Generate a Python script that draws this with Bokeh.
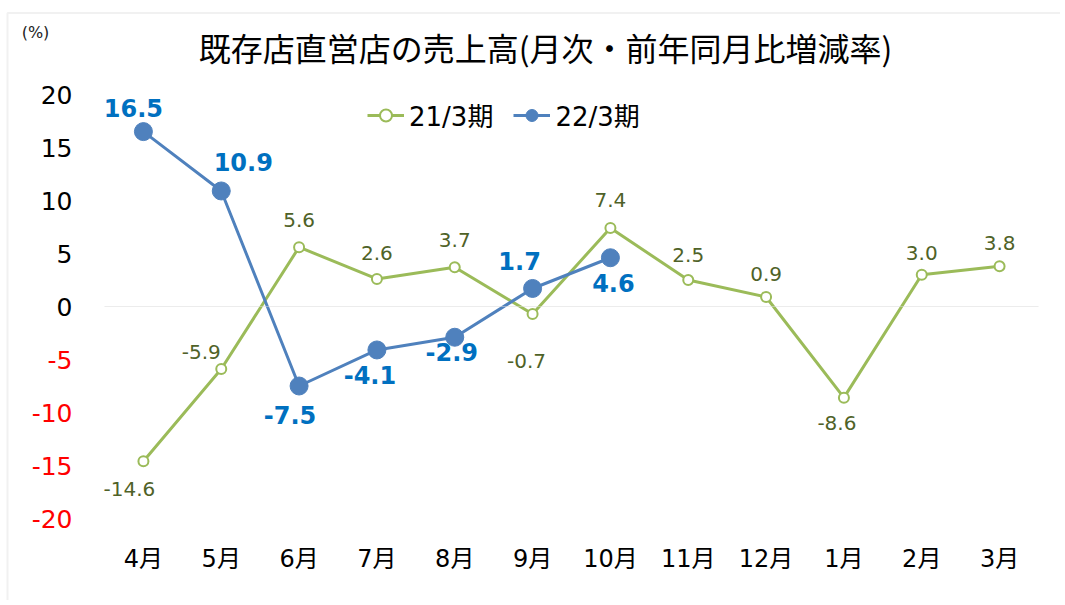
from bokeh.plotting import figure
from bokeh.models import (ColumnDataSource, LabelSet, Label, Legend, LegendItem,
                          FixedTicker, BoxAnnotation, Range1d, LinearAxis)
from bokeh.core.properties import value
from bokeh.embed import file_html
from bokeh.resources import INLINE

months = ["4月", "5月", "6月", "7月", "8月", "9月", "10月", "11月", "12月", "1月", "2月", "3月"]
fy21 = [-14.6, -5.9, 5.6, 2.6, 3.7, -0.7, 7.4, 2.5, 0.9, -8.6, 3.0, 3.8]
fy22 = [16.5, 10.9, -7.5, -4.1, -2.9, 1.7, 4.6]
pos_ticks = [0, 5, 10, 15, 20]
neg_ticks = [-20, -15, -10, -5]
title_text = "既存店直営店の売上高(月次・前年同月比増減率)"
unit_text = "(%)"
series_names = ["21/3期", "22/3期"]

# label placement offsets (pixels; style only)
g_dx = [-14, -20, 0, 0, 0, -6, 0, 0, 0, -7, 0, 0]
g_dy = [-28, 17, 27, 26, 27, -47, 28, 25, 23, -25, 22, 23]
b_dx = [-10, 22, -9, -7, -3, -13, 3]
b_dy = [24, 29, -29, -25, -15, 27, -25]

NUM = "DejaVu Sans, Noto Sans CJK JP"
GREEN = "#9bbb59"
BLUE = "#4f81bd"

W, H = 1060, 600
# plot area (pixels) of the reference
PL, PR, PT, PB = 104, 1038, 94, 518
XMIN, XMAX, YMIN, YMAX = -0.5, 11.5, -20, 20
kx = (PR - PL) / (XMAX - XMIN)
ky = (PB - PT) / (YMAX - YMIN)
x_range = Range1d(XMIN - PL / kx, XMAX + (W - PR) / kx)
y_range = Range1d(YMIN - (H - PB) / ky, YMAX + PT / ky)

def xd(px):
    return x_range.start + px / kx

def yd(py):
    return y_range.end - py / ky

p = figure(width=W, height=H, output_backend="svg", toolbar_location=None,
           x_range=x_range, y_range=y_range,
           min_border_left=0, min_border_right=0, min_border_top=0, min_border_bottom=0)
p.outline_line_color = None
p.background_fill_color = "white"
p.border_fill_color = "white"
p.xgrid.visible = False
p.ygrid.visible = False

# outer border (left and top edges)
p.add_layout(BoxAnnotation(left=xd(7), right=xd(W + 50), top=yd(12.5), bottom=yd(H + 50),
                           fill_alpha=0, line_color="#d0d0d0", line_width=2))

x21 = list(range(len(fy21)))
x22 = list(range(len(fy22)))
src21 = ColumnDataSource(dict(x=x21, y=fy21, t=["%.1f" % v for v in fy21], dx=g_dx, dy=g_dy))
src22 = ColumnDataSource(dict(x=x22, y=fy22, t=["%.1f" % v for v in fy22], dx=b_dx, dy=b_dy))

# zero line across the plot area
p.add_layout(BoxAnnotation(left=XMIN, right=XMAX, top=0, bottom=0, fill_alpha=0,
                           line_color="#d9d9d9", line_width=1))

l21 = p.line("x", "y", source=src21, line_color=GREEN, line_width=3)
s21 = p.scatter("x", "y", source=src21, size=10, fill_color="white", line_color=GREEN, line_width=2)
l22 = p.line("x", "y", source=src22, line_color=BLUE, line_width=3)
s22 = p.scatter("x", "y", source=src22, size=18, fill_color=BLUE, line_color=BLUE)

p.add_layout(LabelSet(x="x", y="y", text="t", source=src21, x_offset="dx", y_offset="dy",
                      text_align="center", text_baseline="middle", text_font=value(NUM),
                      text_font_size="20px", text_color="#4f6228"))
p.add_layout(LabelSet(x="x", y="y", text="t", source=src22, x_offset="dx", y_offset="dy",
                      text_align="center", text_baseline="middle", text_font=value(NUM),
                      text_font_size="24px", text_font_style="bold", text_color="#0070c0"))

# x axis
p.xaxis.fixed_location = YMIN
p.xaxis.ticker = FixedTicker(ticks=x21)
p.xaxis.major_label_overrides = {i: m for i, m in enumerate(months)}
p.xaxis.axis_line_color = None
p.xaxis.major_tick_line_color = None
p.xaxis.minor_tick_line_color = None
p.xaxis.major_tick_out = 0
p.xaxis.major_tick_in = 0
p.xaxis.major_label_text_font = NUM
p.xaxis.major_label_text_font_size = "24px"
p.xaxis.major_label_text_color = "black"
p.xaxis.major_label_standoff = 26

# y axes (black for >= 0, red for negatives)
def style_y(ax, ticks, color):
    ax.fixed_location = XMIN
    ax.ticker = FixedTicker(ticks=ticks)
    ax.major_label_overrides = {t: str(t) for t in ticks}
    ax.axis_line_color = None
    ax.major_tick_line_color = None
    ax.minor_tick_line_color = None
    ax.major_tick_out = 0
    ax.major_tick_in = 0
    ax.major_label_text_font = NUM
    ax.major_label_text_font_size = "25px"
    ax.major_label_text_color = color
    ax.major_label_standoff = 32

style_y(p.yaxis[0], pos_ticks, "black")
yneg = LinearAxis()
style_y(yneg, neg_ticks, "#ff0000")
p.add_layout(yneg, "left")

# title and unit
p.add_layout(Label(x=xd(545), y=yd(46), text=title_text, text_align="center", text_baseline="middle",
                   text_font="Noto Sans CJK JP", text_font_size="32px", text_color="black"))
p.add_layout(Label(x=xd(35), y=yd(32), text=unit_text, text_align="center", text_baseline="middle",
                   text_font=NUM, text_font_size="16px", text_color="#222222"))

legend = Legend(items=[LegendItem(label=series_names[0], renderers=[l21, s21]),
                       LegendItem(label=series_names[1], renderers=[l22, s22])],
                orientation="horizontal", location=(367, H - 118 - 15), padding=0, margin=0,
                spacing=20, glyph_width=37, glyph_height=30, label_standoff=5,
                label_text_font=NUM, label_text_font_size="26px", label_text_color="black",
                background_fill_alpha=0, border_line_color=None)
p.add_layout(legend)

open("out.html", "w").write(file_html(p, INLINE))
